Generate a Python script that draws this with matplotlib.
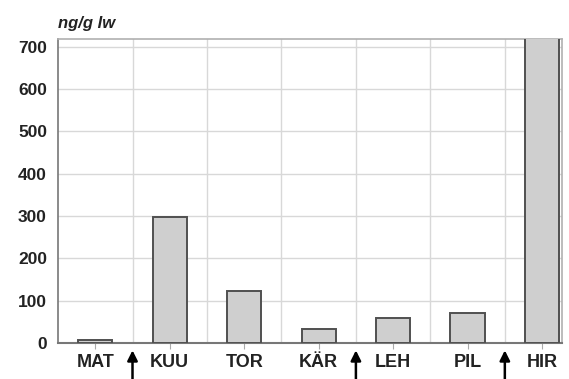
import matplotlib.pyplot as plt
import numpy as np

plt.rcParams['font.family'] = ['Liberation Sans', 'DejaVu Sans']

sites = ['MAT', 'KUU', 'TOR', 'KÄR', 'LEH', 'PIL', 'HIR']
values = [7, 298, 123, 32, 60, 70, 720]
arrow_after = [0, 3, 5]  # arrows sit between these sites and the next one
yticks = [0, 100, 200, 300, 400, 500, 600, 700]

fig = plt.figure(figsize=(5.69, 3.79), dpi=100)
ax = fig.add_axes([0.102, 0.095, 0.886, 0.802])

x = np.arange(len(sites))
ax.bar(x, values, width=0.46, color='#cfcfcf', edgecolor='#505050', linewidth=1.4, zorder=3)

ax.set_xlim(-0.5, 6.27)
ax.set_ylim(0, 718)
ax.set_yticks(yticks)
ax.set_yticklabels([str(v) for v in yticks], fontsize=12.5, fontweight='bold', color='#222222')
ax.set_xticks(x)
ax.set_xticklabels(sites, fontsize=13, fontweight='bold', color='#222222')
ax.set_xticks(x[:-1] + 0.5, minor=True)

ax.grid(axis='y', color='#d8d8d8', linewidth=1.0, zorder=0)
ax.grid(axis='x', which='minor', color='#d8d8d8', linewidth=1.0, zorder=0)
ax.tick_params(axis='x', which='major', length=4, color='#aaaaaa', pad=4)
ax.tick_params(axis='x', which='minor', length=0)
ax.tick_params(axis='y', length=0, pad=8)

for s in ax.spines.values():
    s.set_color('#b0b0b0')
    s.set_linewidth(1.2)
ax.spines['left'].set_color('#777777')
ax.spines['bottom'].set_color('#777777')
ax.spines['bottom'].set_linewidth(1.5)

for i in arrow_after:
    ax.annotate('', xy=(i + 0.5, -0.015), xytext=(i + 0.5, -0.13),
                xycoords=('data', 'axes fraction'), textcoords=('data', 'axes fraction'),
                arrowprops=dict(arrowstyle='-|>,head_width=0.3,head_length=0.6',
                                color='black', lw=1.8), annotation_clip=False)

fig.text(0.102, 0.925, 'ng/g lw', fontsize=12, fontweight='bold', fontstyle='italic',
         color='#222222')

fig.savefig('out.png', dpi=100)
